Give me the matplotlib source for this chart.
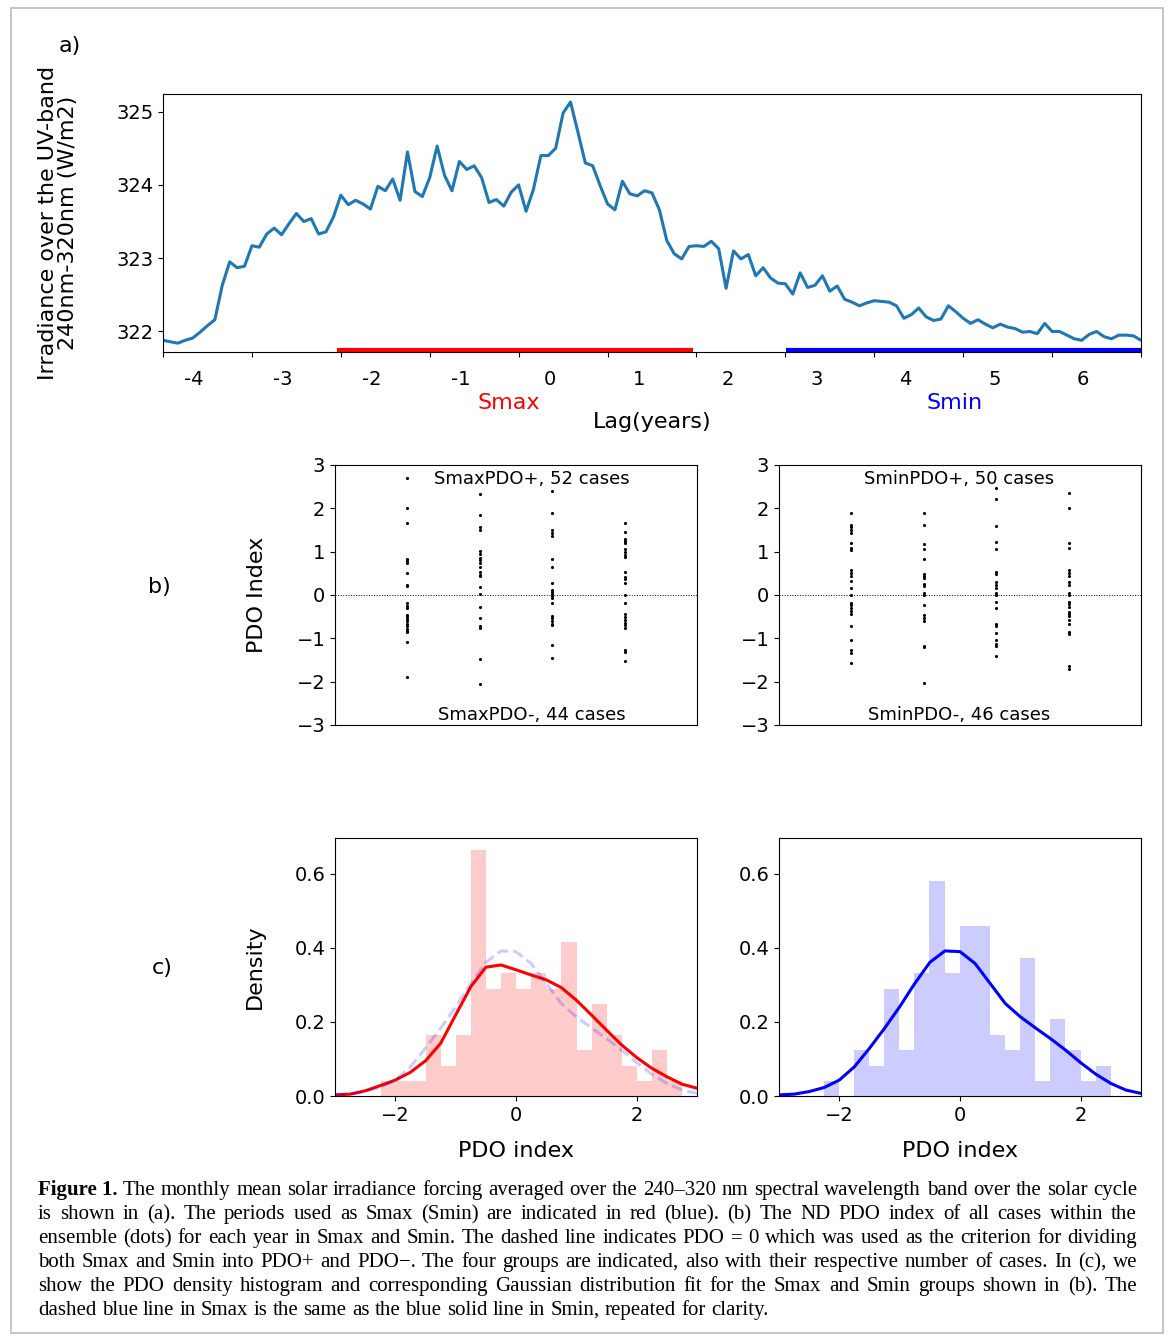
import matplotlib.pyplot as plt
import numpy as np
from matplotlib.patches import Rectangle

# a) irradiance, one value per month (lag months 0..132)
irr = [321.88, 321.86, 321.84, 321.88, 321.91, 321.99, 322.08, 322.16, 322.63, 322.95,
       322.87, 322.89, 323.17, 323.15, 323.33, 323.41, 323.32, 323.47, 323.61, 323.50,
       323.54, 323.33, 323.36, 323.56, 323.86, 323.73, 323.79, 323.74, 323.67, 323.98,
       323.92, 324.08, 323.79, 324.45, 323.91, 323.84, 324.10, 324.53, 324.13, 323.92,
       324.32, 324.21, 324.26, 324.10, 323.76, 323.80, 323.71, 323.90, 324.00, 323.64,
       323.94, 324.40, 324.40, 324.50, 324.98, 325.13, 324.72, 324.30, 324.26, 323.99,
       323.74, 323.66, 324.05, 323.88, 323.85, 323.92, 323.89, 323.66, 323.24, 323.06,
       322.99, 323.16, 323.17, 323.16, 323.23, 323.13, 322.59, 323.10, 322.99, 323.05,
       322.76, 322.87, 322.73, 322.66, 322.65, 322.51, 322.80, 322.60, 322.63, 322.76,
       322.55, 322.62, 322.44, 322.40, 322.35, 322.39, 322.42, 322.41, 322.40, 322.35,
       322.18, 322.23, 322.32, 322.20, 322.15, 322.17, 322.35, 322.27, 322.18, 322.11,
       322.16, 322.10, 322.05, 322.10, 322.06, 322.04, 321.99, 322.00, 321.97, 322.11,
       322.00, 322.00, 321.95, 321.90, 321.88, 321.96, 322.00, 321.93, 321.90, 321.95,
       321.95, 321.94, 321.88]
lag_labels = ['-4', '-3', '-2', '-1', '0', '1', '2', '3', '4', '5', '6']
lag_label_months = [4.2 + 12 * k for k in range(len(lag_labels))]
smax_period = [23.5, 71.6]   # months
smin_period = [84.1, 132.0]

# b) PDO index per case, four years each
smax_pdo = [
    [2.69, 2.0, 1.67, 0.84, 0.79, 0.74, 0.50, 0.24, 0.21, -0.19, -0.25, -0.31, -0.47, -0.50,
     -0.56, -0.60, -0.66, -0.71, -0.78, -0.83, -0.86, -1.09, -1.89],
    [2.33, 1.84, 1.57, 1.51, 1.01, 0.95, 0.85, 0.81, 0.74, 0.64, 0.53, 0.47, 0.43, 0.19, 0.03,
     -0.28, -0.53, -0.71, -0.76, -1.47, -2.06],
    [2.40, 1.89, 1.49, 1.43, 1.36, 0.83, 0.64, 0.27, 0.12, 0.06, 0.02, -0.02, -0.06, -0.19,
     -0.49, -0.54, -0.60, -0.66, -0.69, -1.15, -1.46],
    [1.65, 1.45, 1.29, 1.24, 1.19, 1.05, 0.99, 0.93, 0.88, 0.54, 0.41, 0.36, 0.27, -0.01, -0.18,
     -0.44, -0.50, -0.57, -0.64, -0.70, -0.76, -1.26, -1.32, -1.53],
]
smin_pdo = [
    [1.90, 1.62, 1.57, 1.51, 1.42, 1.20, 1.09, 1.03, 0.58, 0.50, 0.44, 0.33, 0.16, 0.0, -0.18,
     -0.23, -0.29, -0.36, -0.43, -0.71, -1.05, -1.26, -1.33, -1.58],
    [1.90, 1.62, 1.18, 1.05, 0.84, 0.49, 0.44, 0.40, 0.26, 0.21, 0.05, 0.0, -0.23, -0.47, -0.52,
     -0.60, -1.18, -1.20, -2.02],
    [2.46, 2.21, 1.59, 1.22, 1.06, 0.53, 0.49, 0.29, 0.22, 0.16, 0.05, 0.0, -0.16, -0.31, -0.67,
     -0.71, -0.88, -1.05, -1.12, -1.18, -1.41],
    [2.36, 2.0, 1.20, 1.09, 0.58, 0.50, 0.43, 0.31, 0.23, 0.05, 0.0, -0.16, -0.21, -0.27, -0.40,
     -0.44, -0.49, -0.58, -0.68, -0.85, -0.91, -1.64, -1.71],
]
b_top = ['SmaxPDO+, 52 cases', 'SminPDO+, 50 cases']
b_bot = ['SmaxPDO-, 44 cases', 'SminPDO-, 46 cases']

# c) density histograms + fitted curves
smax_edges = np.linspace(-2.24, 2.75, 21)
smax_dens = [0.041, 0.041, 0.041, 0.165, 0.082, 0.165, 0.665, 0.289, 0.331, 0.289,
             0.331, 0.289, 0.415, 0.123, 0.248, 0.165, 0.082, 0.041, 0.123, 0.041]
smin_edges = np.linspace(-2.26, 2.50, 20)
smin_dens = [0.041, 0.0, 0.123, 0.082, 0.289, 0.123, 0.331, 0.582, 0.331, 0.458,
             0.458, 0.165, 0.123, 0.372, 0.041, 0.207, 0.123, 0.041, 0.082]
fit_x = [-3.0, -2.75, -2.5, -2.25, -2.0, -1.75, -1.5, -1.25, -1.0, -0.75, -0.5, -0.25, 0.0,
         0.25, 0.5, 0.75, 1.0, 1.25, 1.5, 1.75, 2.0, 2.25, 2.5, 2.75, 3.0]
smax_fit = [0.003, 0.005, 0.014, 0.028, 0.043, 0.064, 0.095, 0.142, 0.219, 0.295, 0.348, 0.354,
            0.341, 0.327, 0.314, 0.293, 0.259, 0.219, 0.178, 0.138, 0.104, 0.075, 0.052, 0.032, 0.021]
smin_fit = [0.003, 0.005, 0.012, 0.023, 0.043, 0.079, 0.129, 0.183, 0.241, 0.304, 0.361, 0.392,
            0.390, 0.358, 0.304, 0.250, 0.214, 0.184, 0.155, 0.124, 0.090, 0.059, 0.034, 0.016, 0.007]

caption = [
    "Figure\u00a01. The monthly mean solar irradiance forcing averaged over the 240\u2013320 nm spectral wavelength band over the solar cycle",
    "is shown in (a). The periods used as Smax (Smin) are indicated in red (blue). (b) The ND PDO index of all cases within the",
    "ensemble (dots) for each year in Smax and Smin. The dashed line indicates PDO = 0 which was used as the criterion for dividing",
    "both Smax and Smin into PDO+ and PDO\u2212. The four groups are indicated, also with their respective number of cases. In (c), we",
    "show the PDO density histogram and corresponding Gaussian distribution fit for the Smax and Smin groups shown in (b). The",
    "dashed blue line in Smax is the same as the blue solid line in Smin, repeated for clarity.",
]

W, H = 1170, 1340
fig = plt.figure(figsize=(W / 100, H / 100), dpi=100)


def box(x0, y0, x1, y1):
    # pixel box (top-left origin) -> figure fraction rect
    return [x0 / W, 1 - y1 / H, (x1 - x0) / W, (y1 - y0) / H]


# ---- panel a
ax = fig.add_axes(box(163, 94, 1141, 352))
months = np.arange(len(irr))
ax.plot(months, irr, color='#1f77b4', lw=2.2)
ax.set_xlim(0, 132)
ax.set_ylim(321.72, 325.24)
ax.set_yticks([322, 323, 324, 325])
ax.set_xticks(np.arange(0, 133, 12))
ax.set_xticklabels([])
ax.set_xticks(lag_label_months, minor=True)
ax.set_xticklabels(lag_labels, minor=True)
ax.tick_params(axis='x', which='minor', length=0, pad=13)
ax.tick_params(which='both', labelsize=14)
ax.plot(smax_period, [0.006, 0.006], transform=ax.get_xaxis_transform(),
        color='red', lw=3, solid_capstyle='butt', clip_on=False)
ax.plot(smin_period, [0.006, 0.006], transform=ax.get_xaxis_transform(),
        color='blue', lw=3, solid_capstyle='butt', clip_on=False)
ax.text(46.6, -0.198, 'Smax', color='red', fontsize=16, ha='center', va='center',
        transform=ax.get_xaxis_transform())
ax.text(106.8, -0.198, 'Smin', color='blue', fontsize=16, ha='center', va='center',
        transform=ax.get_xaxis_transform())
ax.text(0.5, -0.271, 'Lag(years)', fontsize=16, ha='center', va='center', transform=ax.transAxes)
fig.text(58 / W, 1 - 223 / H, 'Irradiance over the UV-band\n240nm-320nm (W/m2)', rotation=90,
         fontsize=16, ha='center', va='center', linespacing=1.05)
fig.text(70 / W, 1 - 46 / H, 'a)', fontsize=16, ha='center', va='center')

# ---- panel b
b_boxes = [box(335, 465, 697, 725), box(779, 465, 1141, 725)]
top_x = [0.544, 0.497]
for k, cols in enumerate([smax_pdo, smin_pdo]):
    axb = fig.add_axes(b_boxes[k])
    for i, vals in enumerate(cols):
        axb.scatter(np.full(len(vals), i + 1), vals, s=5, color='k', lw=0)
    axb.axhline(0, color='k', ls=':', lw=0.7)
    axb.set_xlim(0, 5)
    axb.set_ylim(-3, 3)
    axb.set_xticks([])
    axb.set_yticks(range(-3, 4))
    axb.tick_params(labelsize=14)
    axb.text(top_x[k], 0.946, b_top[k], fontsize=13, ha='center', va='center', transform=axb.transAxes)
    axb.text(top_x[k], 0.038, b_bot[k], fontsize=13, ha='center', va='center', transform=axb.transAxes)
    if k == 0:
        axb.set_ylabel('PDO Index', fontsize=16, labelpad=21)
fig.text(159 / W, 1 - 587 / H, 'b)', fontsize=16, ha='center', va='center')

# ---- panel c
c_boxes = [box(335, 838, 697, 1096), box(779, 838, 1141, 1096)]
axl = fig.add_axes(c_boxes[0])
axl.bar(smax_edges[:-1], smax_dens, width=np.diff(smax_edges), align='edge',
        color='red', alpha=0.2, lw=0)
axl.plot(fit_x, smax_fit, color='red', lw=2.2)
axl.plot(fit_x, smin_fit, color='blue', lw=2.2, ls='--', alpha=0.2)
axr = fig.add_axes(c_boxes[1])
axr.bar(smin_edges[:-1], smin_dens, width=np.diff(smin_edges), align='edge',
        color='blue', alpha=0.2, lw=0)
axr.plot(fit_x, smin_fit, color='blue', lw=2.2)
for axc in [axl, axr]:
    axc.set_xlim(-3, 3)
    axc.set_ylim(0, 0.697)
    axc.set_xticks([-2, 0, 2])
    axc.set_yticks([0.0, 0.2, 0.4, 0.6])
    axc.tick_params(labelsize=14)
    axc.text(0.5, -0.213, 'PDO index', fontsize=16, ha='center', va='center', transform=axc.transAxes)
axl.set_ylabel('Density', fontsize=16, labelpad=21)
fig.text(162 / W, 1 - 968 / H, 'c)', fontsize=16, ha='center', va='center')

# ---- caption, justified between x0 and x1
r = fig.canvas.get_renderer()
x0, x1 = 38, 1137
for n, line in enumerate(caption):
    y = 1 - (1195 + 24 * n) / H
    words = line.split(' ')
    texts = []
    for i, w in enumerate(words):
        bold = (n == 0 and i == 0)
        texts.append(fig.text(0, y, w, fontsize=15, family='Liberation Serif', va='baseline',
                              weight='bold' if bold else 'normal'))
    widths = [t.get_window_extent(r).width for t in texts]
    if n < len(caption) - 1:
        gap = (x1 - x0 - sum(widths)) / (len(words) - 1)
    else:
        gap = texts[0].get_fontsize() * 0.25 * 100 / 72
    x = x0
    for t, w in zip(texts, widths):
        t.set_x(x / W)
        x += w + gap

fig.add_artist(Rectangle((11 / W, 1 - 1333 / H), (1163 - 11) / W, (1333 - 8) / H,
                         transform=fig.transFigure, fill=False, ec='#bbbbbb', lw=1.2))

fig.savefig('out.png', dpi=100)
